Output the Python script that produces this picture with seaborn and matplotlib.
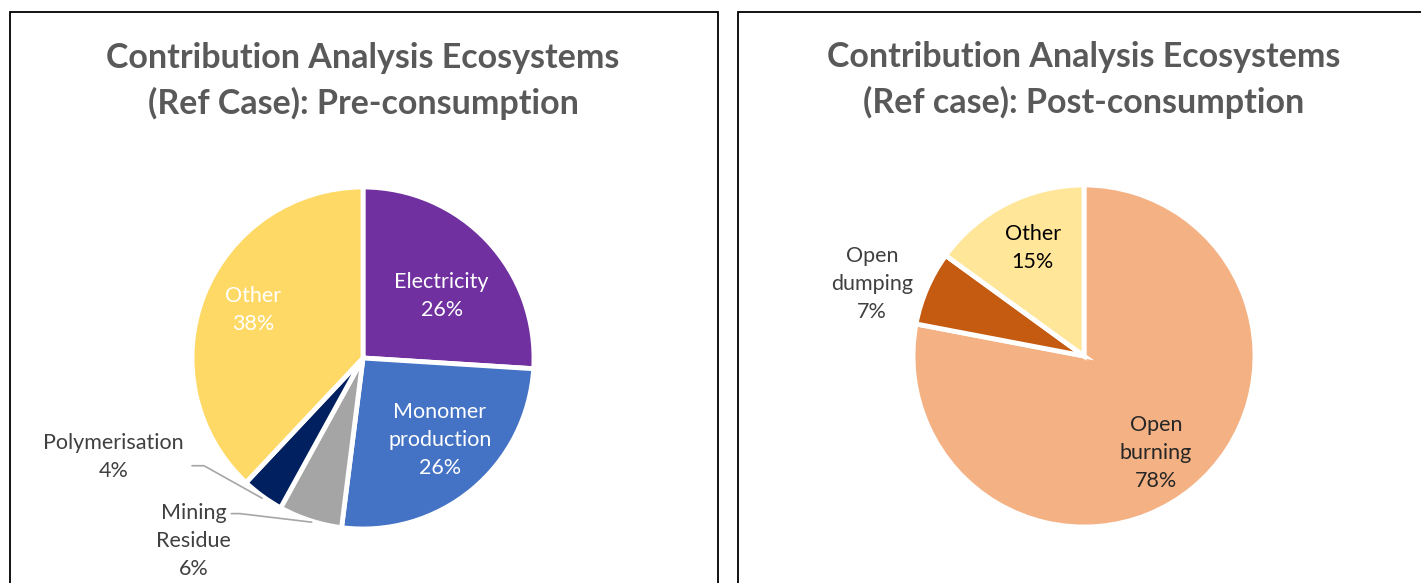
import matplotlib
matplotlib.use("Agg")
import matplotlib.pyplot as plt
import seaborn as sns
from matplotlib.patches import Rectangle

sns.set_theme(style="white")
plt.rcParams['font.family'] = ['Lato', 'DejaVu Sans']

# Pre-consumption data (clockwise from 12 o'clock)
pre_labels = ["Electricity", "Monomer\nproduction", "Mining\nResidue", "Polymerisation", "Other"]
pre_values = [26, 26, 6, 4, 38]
pre_colors = ["#7030A0", "#4472C4", "#A5A5A5", "#002060", "#FFD966"]

# Post-consumption data
post_labels = ["Open\nburning", "Open\ndumping", "Other"]
post_values = [78, 7, 15]
post_colors = ["#F4B183", "#C55A11", "#FFE699"]

W, H = 1421, 583
fig = plt.figure(figsize=(W / 100, H / 100), dpi=100)

# panel frames
fig.patches.append(Rectangle((10 / W, -0.05), 708 / W, 1 - 12 / H + 0.05, transform=fig.transFigure,
                             fill=False, edgecolor="black", linewidth=1.3))
fig.patches.append(Rectangle((738 / W, -0.05), 700 / W, 1 - 12 / H + 0.05, transform=fig.transFigure,
                             fill=False, edgecolor="black", linewidth=1.3))


def pie_axes(cx, cy, r):
    ax = fig.add_axes([(cx - r) / W, (H - cy - r) / H, 2 * r / W, 2 * r / H])
    return ax


def finish(ax):
    ax.set_aspect("auto")
    ax.set_xlim(-1, 1)
    ax.set_ylim(-1, 1)
    ax.axis("off")


title_kw = dict(ha="center", va="center", fontsize=24.5, fontweight="bold", color="#595959")
lab_kw = dict(ha="center", va="center", fontsize=15.5, linespacing=1.5)

# left pie
ax1 = pie_axes(363, 358, 171)
ax1.pie(pre_values, colors=pre_colors, startangle=90, counterclock=False, radius=1,
        wedgeprops=dict(edgecolor="white", linewidth=3.5))
finish(ax1)
pre_pos = [(0.46, 0.36, "white"), (0.45, -0.48, "white"), (-0.99, -1.07, "#404040"),
           (-1.46, -0.58, "#404040"), (-0.64, 0.28, "white")]
for lab, v, (x, y, c) in zip(pre_labels, pre_values, pre_pos):
    ax1.text(x, y, f"{lab}\n{v}%", color=c, clip_on=False, **lab_kw)
# leader lines
ax1.plot([-1.0, -0.93, -0.59], [-0.63, -0.63, -0.82], color="#A6A6A6", lw=1.2, clip_on=False)
ax1.plot([-0.77, -0.72, -0.30], [-0.91, -0.91, -0.96], color="#A6A6A6", lw=1.2, clip_on=False)
fig.text(363 / W, 1 - 58 / H, "Contribution Analysis Ecosystems", **title_kw)
fig.text(363 / W, 1 - 103 / H, "(Ref Case): Pre-consumption", **title_kw)

# right pie
ax2 = pie_axes(1084, 356, 171)
ax2.pie(post_values, colors=post_colors, startangle=90, counterclock=False, radius=1,
        wedgeprops=dict(edgecolor="white", linewidth=3.5))
finish(ax2)
post_pos = [(0.42, -0.57, "#262626"), (-1.24, 0.42, "#404040"), (-0.30, 0.63, "#000000")]
for lab, v, (x, y, c) in zip(post_labels, post_values, post_pos):
    ax2.text(x, y, f"{lab}\n{v}%", color=c, clip_on=False, **lab_kw)
fig.text(1084 / W, 1 - 57 / H, "Contribution Analysis Ecosystems", **title_kw)
fig.text(1084 / W, 1 - 102 / H, "(Ref case): Post-consumption", **title_kw)

fig.savefig("out.png", dpi=100)
